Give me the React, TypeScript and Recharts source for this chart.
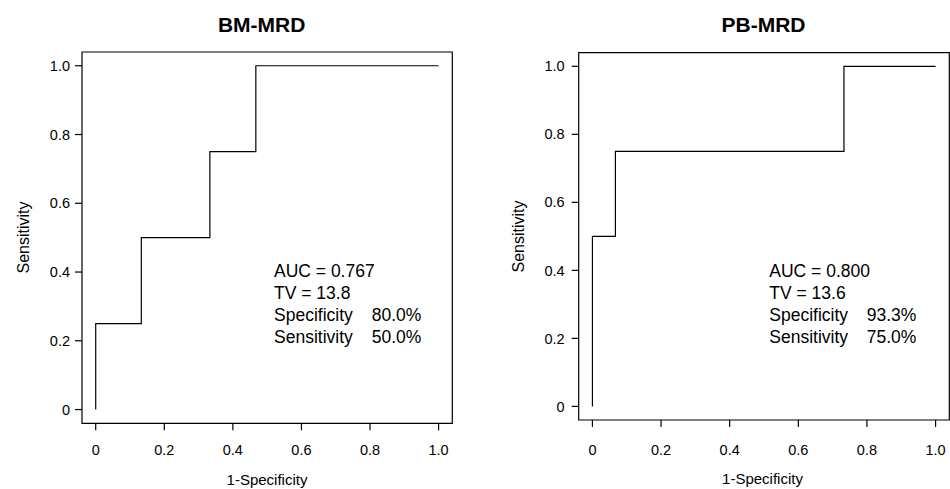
import React from "react";
import { LineChart, Line, XAxis, YAxis, ReferenceArea } from "recharts";

// ROC points (1-specificity, sensitivity)
const bmFpr = [0, 0, 0.133, 0.333, 0.467, 1];
const bmTpr = [0, 0.25, 0.5, 0.75, 1, 1];
const pbFpr = [0, 0, 0.067, 0.733, 1];
const pbTpr = [0, 0.5, 0.75, 1, 1];

const titles = ["BM-MRD", "PB-MRD"];
const xTicks = [0, 0.2, 0.4, 0.6, 0.8, 1];
const yTicks = [0, 0.2, 0.4, 0.6, 0.8, 1];
const statLabels = ["AUC = 0.767", "TV = 13.8", "Specificity", "Sensitivity"];
const bmStatValues = ["", "", "80.0%", "50.0%"];
const pbStatLabels = ["AUC = 0.800", "TV = 13.6", "Specificity", "Sensitivity"];
const pbStatValues = ["", "", "93.3%", "75.0%"];

const FONT = '"Liberation Sans", Arial, Helvetica, sans-serif';
const W = 475;
const H = 489;
const DOMAIN: [number, number] = [-0.04, 1.04];

const fmt = (v: number) => (v === 0 ? "0" : v.toFixed(1));

type Layout = {
  left: number;
  top: number;
  right: number;
  yAxisW: number;
  xAxisH: number;
  yTickMargin: number;
  xTickMargin: number;
  titleX: number;
  yLabelX: number;
  yLabelY: number;
  xLabelX: number;
  xLabelY: number;
  textX: number;
  valueX: number;
};

const bmLayout: Layout = {
  left: 0, top: 52, right: 22.7, yAxisW: 82, xAxisH: 65.7,
  yTickMargin: 5, xTickMargin: 14,
  titleX: 261.7, yLabelX: 29, yLabelY: 237.5, xLabelX: 267, xLabelY: 485,
  textX: 274, valueX: 371.7,
};

const pbLayout: Layout = {
  left: 475, top: 52.7, right: 0.7, yAxisW: 103.7, xAxisH: 69,
  yTickMargin: 7, xTickMargin: 18,
  titleX: 288.5, yLabelX: 49, yLabelY: 236.5, xLabelX: 287.5, xLabelY: 484,
  textX: 294.3, valueX: 391.7,
};

const rowBaselines = [277, 299, 321, 343.3];

function RocPanel({
  fpr, tpr, title, labels, values, lay,
}: {
  fpr: number[]; tpr: number[]; title: string; labels: string[]; values: string[]; lay: Layout;
}) {
  const data = fpr.map((x, i) => ({ fpr: x, tpr: tpr[i] }));
  const tickStyle = { fill: "#000", fontSize: 14.5, fontFamily: FONT };
  return (
    <div style={{ position: "absolute", left: lay.left, top: 0, width: W, height: H }}>
      <LineChart
        width={W}
        height={H}
        data={data}
        margin={{ top: lay.top, right: lay.right, bottom: 0, left: 0 }}
      >
        <XAxis
          dataKey="fpr"
          type="number"
          domain={DOMAIN}
          allowDataOverflow
          ticks={xTicks}
          tickFormatter={fmt}
          axisLine={false}
          tickLine={{ stroke: "#000", strokeWidth: 1.2 }}
          tickSize={7}
          tickMargin={lay.xTickMargin}
          height={lay.xAxisH}
          tick={tickStyle}
          interval={0}
        />
        <YAxis
          type="number"
          domain={DOMAIN}
          allowDataOverflow
          ticks={yTicks}
          tickFormatter={fmt}
          axisLine={false}
          tickLine={{ stroke: "#000", strokeWidth: 1.2 }}
          tickSize={7}
          tickMargin={lay.yTickMargin}
          width={lay.yAxisW}
          tick={tickStyle}
          interval={0}
        />
        <ReferenceArea
          x1={DOMAIN[0]}
          x2={DOMAIN[1]}
          y1={DOMAIN[0]}
          y2={DOMAIN[1]}
          fill="none"
          fillOpacity={0}
          stroke="#000"
          strokeWidth={1.2}
          ifOverflow="visible"
        />
        <Line
          type="stepAfter"
          dataKey="tpr"
          stroke="#000"
          strokeWidth={1.2}
          dot={false}
          activeDot={false}
          isAnimationActive={false}
        />
      </LineChart>
      <svg
        width={W}
        height={H}
        style={{ position: "absolute", left: 0, top: 0, pointerEvents: "none" }}
        fontFamily={FONT}
      >
        <text x={lay.titleX} y={32} textAnchor="middle" fontSize={21} fontWeight="bold" fill="#000">
          {title}
        </text>
        <text
          x={lay.yLabelX}
          y={lay.yLabelY}
          transform={`rotate(-90 ${lay.yLabelX} ${lay.yLabelY})`}
          textAnchor="middle"
          fontSize={16}
          fill="#000"
        >
          Sensitivity
        </text>
        <text x={lay.xLabelX} y={lay.xLabelY} textAnchor="middle" fontSize={15} fill="#000">
          1-Specificity
        </text>
        {labels.map((t, i) => (
          <text key={`l${i}`} x={lay.textX} y={rowBaselines[i]} fontSize={17.5} fill="#000">
            {t}
          </text>
        ))}
        {values.map((t, i) => (
          <text key={`v${i}`} x={lay.valueX} y={rowBaselines[i]} fontSize={17.5} fill="#000">
            {t}
          </text>
        ))}
      </svg>
    </div>
  );
}

export default function App() {
  return (
    <div style={{ position: "fixed", left: 0, top: 0, width: 950, height: 489, background: "#fff" }}>
      <RocPanel fpr={bmFpr} tpr={bmTpr} title={titles[0]} labels={statLabels} values={bmStatValues} lay={bmLayout} />
      <RocPanel fpr={pbFpr} tpr={pbTpr} title={titles[1]} labels={pbStatLabels} values={pbStatValues} lay={pbLayout} />
    </div>
  );
}
